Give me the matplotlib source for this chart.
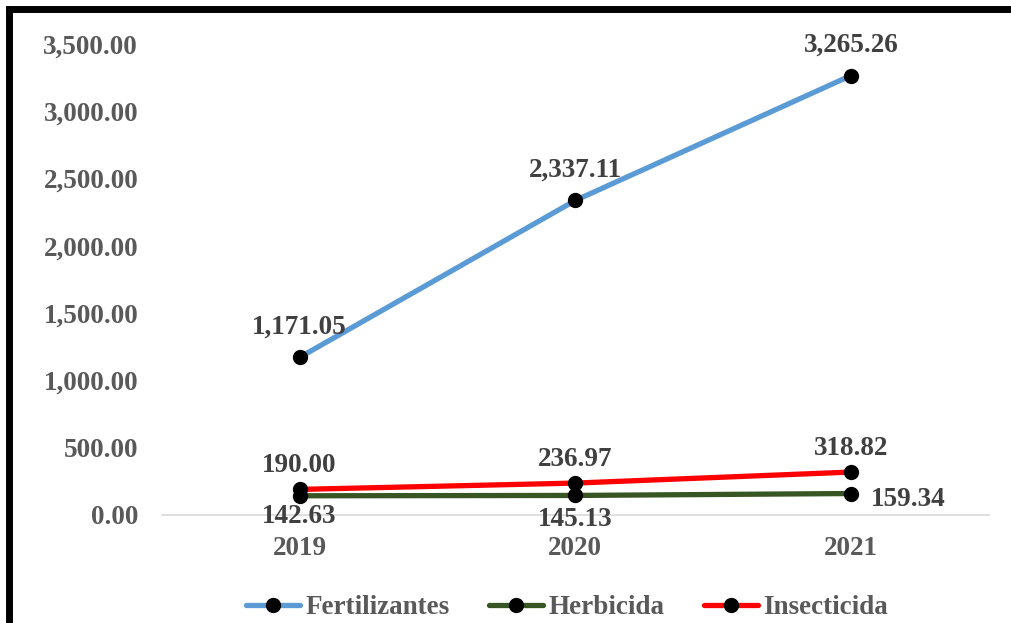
import matplotlib
matplotlib.use("Agg")
import matplotlib.pyplot as plt
from matplotlib.patches import Rectangle
from matplotlib.ticker import FuncFormatter

years = ["2019", "2020", "2021"]
fertilizantes = [1171.05, 2337.11, 3265.26]
herbicida = [142.63, 145.13, 159.34]
insecticida = [190.00, 236.97, 318.82]

plt.rcParams['font.family'] = ['Liberation Serif', 'DejaVu Serif']
plt.rcParams['font.weight'] = 'bold'

fig = plt.figure(figsize=(10.11, 6.23), dpi=100)
ax = fig.add_axes([0.160, 0.1734, 0.818, 0.756])

x = range(len(years))
lw = 3.8
ms = 10
fs = 19.5
ax.plot(x, fertilizantes, color='#5b9bd5', lw=lw, marker='o', ms=ms,
        mfc='black', mec='black', label='Fertilizantes', solid_capstyle='round')
ax.plot(x, herbicida, color='#375623', lw=lw, marker='o', ms=ms,
        mfc='black', mec='black', label='Herbicida', solid_capstyle='round')
ax.plot(x, insecticida, color='#ff0000', lw=lw, marker='o', ms=ms,
        mfc='black', mec='black', label='Insecticida', solid_capstyle='round')

lab = dict(textcoords='offset pixels', ha='center', va='center',
           fontsize=fs, fontweight='bold', color='#404040')
for i, v in enumerate(fertilizantes):
    ax.annotate(f"{v:,.2f}", (i, v), xytext=(0, 30), **lab)
for i, v in enumerate(insecticida):
    ax.annotate(f"{v:,.2f}", (i, v), xytext=(0, 24), **lab)
herb_off = [(0, -21), (0, -24), (57, -6)]
for i, v in enumerate(herbicida):
    ax.annotate(f"{v:,.2f}", (i, v), xytext=herb_off[i], **lab)

ax.set_xlim(-0.5, 2.5)
ax.set_ylim(0, 3500)
ax.set_yticks(range(0, 3501, 500))
ax.yaxis.set_major_formatter(FuncFormatter(lambda v, p: f"{v:,.2f}"))
ax.set_xticks(list(x))
ax.set_xticklabels(years)
ax.tick_params(axis='both', length=0, labelsize=fs, labelcolor='#595959')
ax.tick_params(axis='y', pad=17)
ax.tick_params(axis='x', pad=15)
for s in ['top', 'right', 'left']:
    ax.spines[s].set_visible(False)
ax.spines['bottom'].set_color('#d9d9d9')
ax.spines['bottom'].set_linewidth(1.2)

leg = ax.legend(loc='center', bbox_to_anchor=(0.49, -0.197), ncol=3, frameon=False,
                fontsize=fs, handlelength=2.0, handletextpad=0.2, columnspacing=1.45)
for t in leg.get_texts():
    t.set_color('#595959')

fig.patches.append(Rectangle((0.0085, -0.05), 1.2, 1.036, transform=fig.transFigure,
                             fill=False, edgecolor='black', lw=5, clip_on=False))

fig.savefig("out.png", dpi=100)
